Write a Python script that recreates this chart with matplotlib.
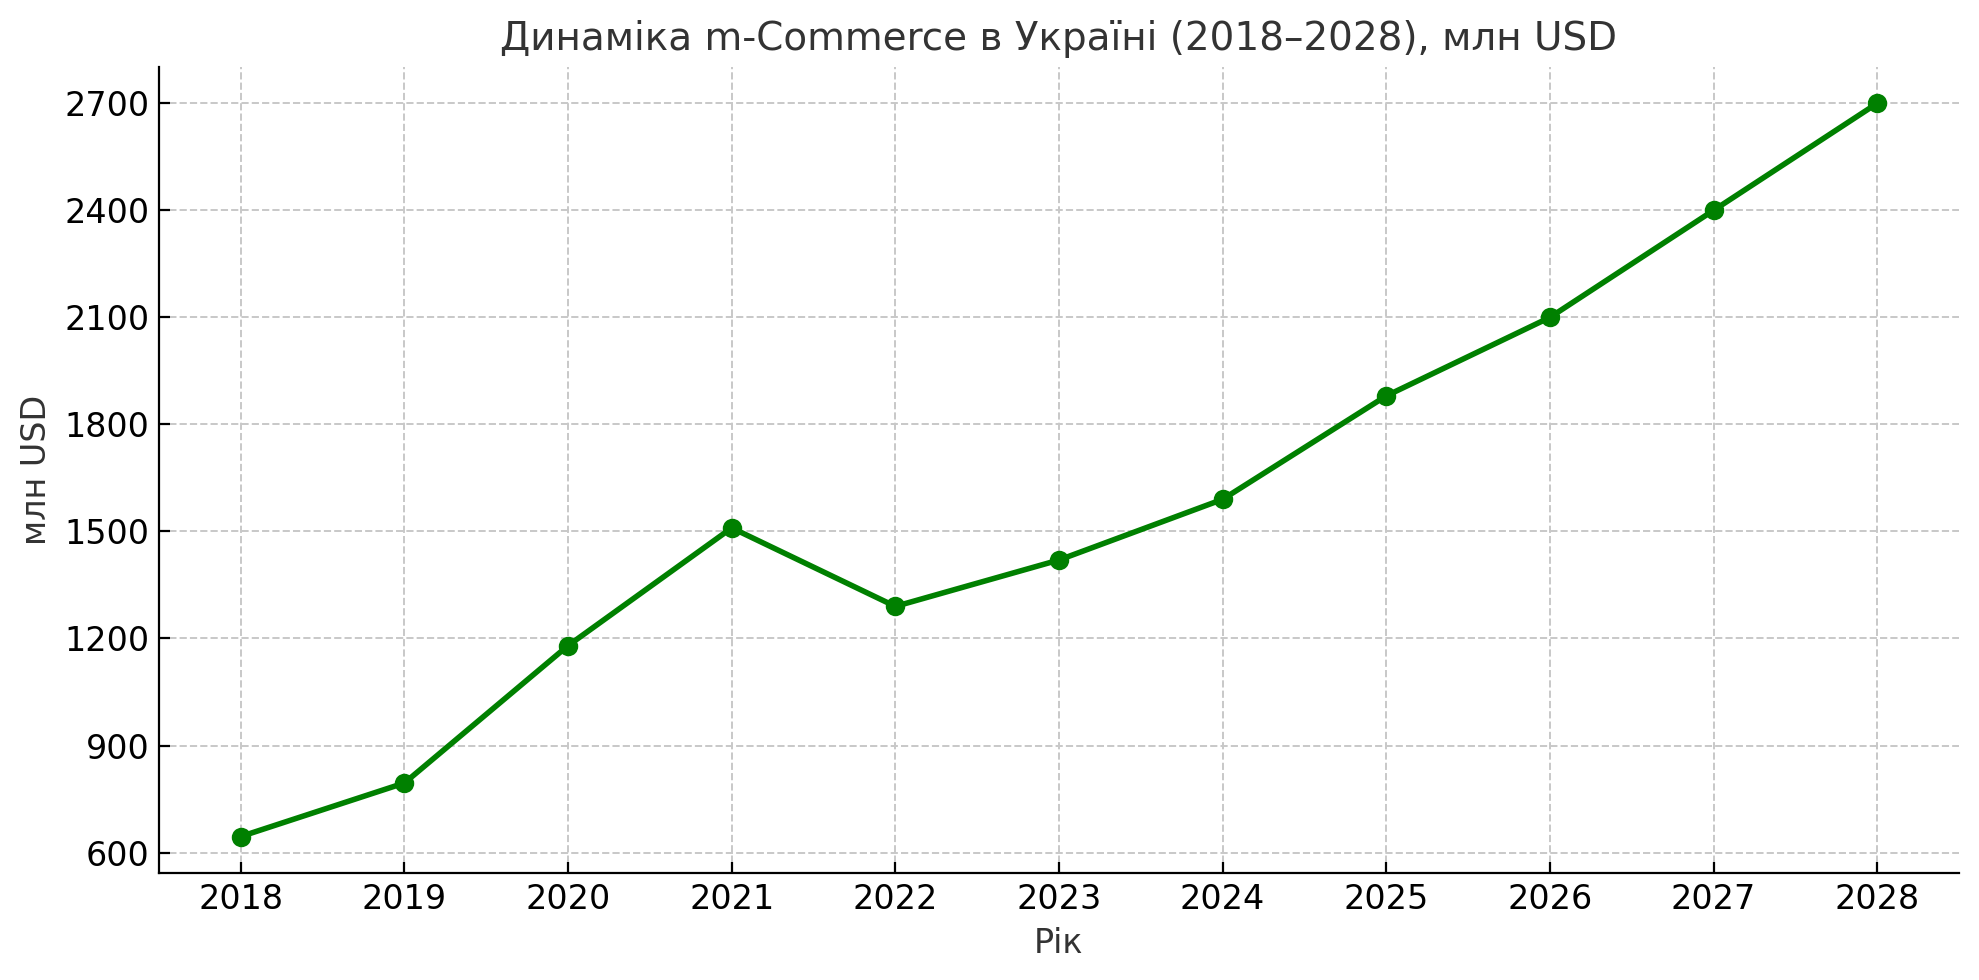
import matplotlib
matplotlib.use("Agg")
import matplotlib.pyplot as plt

years = [2018, 2019, 2020, 2021, 2022, 2023, 2024, 2025, 2026, 2027, 2028]
mcommerce_usd_mln = [645, 795, 1180, 1510, 1290, 1420, 1590, 1880, 2100, 2400, 2700]
y_ticks = [600, 900, 1200, 1500, 1800, 2100, 2400, 2700]

plt.rcParams["font.family"] = ["DejaVu Sans"]

fig, ax = plt.subplots(figsize=(1979 / 200, 980 / 200), dpi=200)

ax.plot(years, mcommerce_usd_mln, color="green", linewidth=2,
        marker="o", markersize=6)

ax.set_xticks(years)
ax.set_yticks(y_ticks)
ax.tick_params(axis="both", labelsize=12, direction="in", length=4)

ax.set_title("Динаміка m-Commerce в Україні (2018–2028), млн USD",
             fontsize=14, color="#333333")
ax.set_xlabel("Рік", fontsize=12, color="#333333")
ax.set_ylabel("млн USD", fontsize=12, color="#333333")

ax.grid(True, linestyle="--", color="#c8c8c8", linewidth=0.7)
ax.spines["top"].set_visible(False)
ax.spines["right"].set_visible(False)

fig.tight_layout(pad=0.72)
fig.savefig("out.png", dpi=200)
